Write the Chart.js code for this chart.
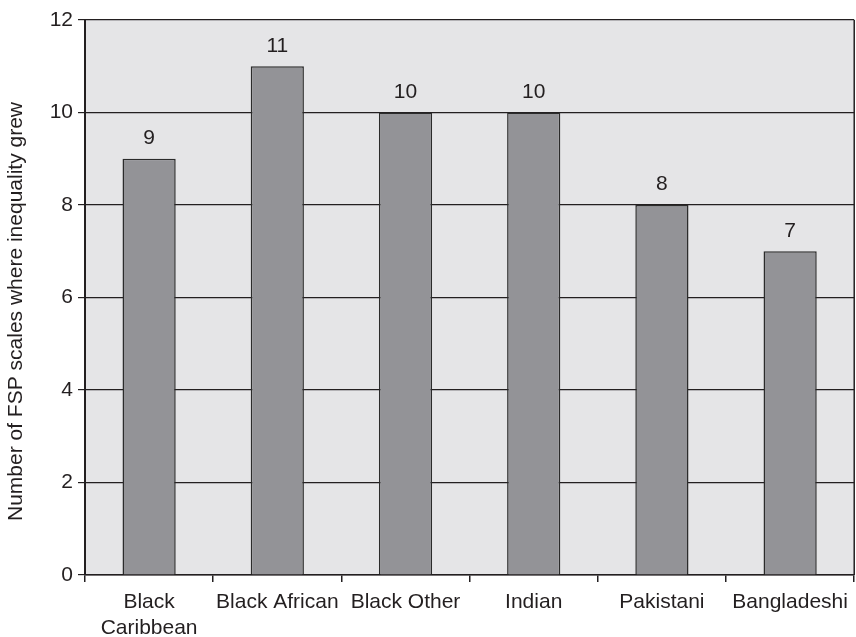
<!DOCTYPE html>
<html>
<head>
<meta charset="utf-8">
<script src="https://cdn.jsdelivr.net/npm/chart.js@4/dist/chart.umd.min.js"></script>
<style>
  html, body { margin: 0; padding: 0; background: #ffffff; }
  #wrap { width: 856px; height: 637px; position: relative; }
</style>
</head>
<body>
<div id="wrap"><canvas id="chart"></canvas></div>
<script>
// Ethnic groups along the x axis
const groups = [['Black', 'Caribbean'], 'Black African', 'Black Other', 'Indian', 'Pakistani', 'Bangladeshi'];
// Number of FSP scales where inequality grew, per group
const scaleCounts = [9, 11, 10, 10, 8, 7];
// Y axis tick values
const yTicks = [0, 2, 4, 6, 8, 10, 12];
// Y axis caption
const yTitle = 'Number of FSP scales where inequality grew';

const FONT = "'Liberation Sans', Arial, Helvetica, sans-serif";
const SIZE = 21;
const INK = '#231f20';

// Shaded plot background, right-hand frame line and the rotated y caption
const plotFrame = {
  id: 'plotFrame',
  beforeDraw(chart) {
    const { ctx, chartArea: a } = chart;
    ctx.save();
    ctx.fillStyle = '#e5e5e7';
    ctx.fillRect(a.left, a.top, a.right - a.left, a.bottom - a.top);
    ctx.restore();
  },
  afterDraw(chart) {
    const { ctx, chartArea: a } = chart;
    ctx.save();
    ctx.strokeStyle = INK;
    ctx.lineWidth = 1.5;
    ctx.beginPath();
    ctx.moveTo(a.right, a.top);
    ctx.lineTo(a.right, a.bottom);
    ctx.stroke();

    // caption sits a little below the middle of the axis
    ctx.translate(16, (a.top + a.bottom) / 2 + 14);
    ctx.rotate(-Math.PI / 2);
    ctx.font = SIZE + 'px ' + FONT;
    ctx.fillStyle = INK;
    ctx.textAlign = 'center';
    ctx.textBaseline = 'middle';
    ctx.fillText(yTitle, 0, 0);
    ctx.restore();
  }
};

// Value printed above each bar
const barValues = {
  id: 'barValues',
  afterDatasetsDraw(chart) {
    const { ctx } = chart;
    const meta = chart.getDatasetMeta(0);
    const data = chart.data.datasets[0].data;
    ctx.save();
    ctx.font = SIZE + 'px ' + FONT;
    ctx.fillStyle = INK;
    ctx.textAlign = 'center';
    ctx.textBaseline = 'bottom';
    meta.data.forEach((bar, i) => {
      ctx.fillText(String(data[i]), bar.x, bar.y - 10);
    });
    ctx.restore();
  }
};

new Chart(document.getElementById('chart'), {
  type: 'bar',
  data: {
    labels: groups,
    datasets: [{
      data: scaleCounts,
      backgroundColor: '#939397',
      borderColor: '#2b2b2b',
      borderWidth: 1.5,
      barPercentage: 0.415,
      categoryPercentage: 1
    }]
  },
  options: {
    responsive: true,
    maintainAspectRatio: false,
    animation: false,
    devicePixelRatio: 1,
    layout: { padding: { top: 20, right: 1, left: 0, bottom: 0 } },
    plugins: {
      legend: { display: false },
      tooltip: { enabled: false }
    },
    scales: {
      x: {
        grid: {
          offset: true,
          drawOnChartArea: false,
          drawTicks: true,
          tickLength: 7,
          color: INK,
          lineWidth: 1.5
        },
        border: { display: true, color: INK, width: 1.5 },
        ticks: {
          color: INK,
          padding: 8,
          maxRotation: 0,
          autoSkip: false,
          font: { family: FONT, size: SIZE, lineHeight: 1.2 }
        },
        afterFit(scale) { scale.height = 62; }
      },
      y: {
        min: 0,
        max: 12,
        afterBuildTicks(scale) { scale.ticks = yTicks.map(v => ({ value: v })); },
        grid: {
          drawTicks: true,
          tickLength: 7,
          color: INK,
          lineWidth: 1.2
        },
        border: { display: true, color: INK, width: 2 },
        ticks: {
          color: INK,
          padding: 5,
          font: { family: FONT, size: SIZE }
        },
        afterFit(scale) { scale.width = 85; }
      }
    }
  },
  plugins: [plotFrame, barValues]
});
</script>
</body>
</html>
